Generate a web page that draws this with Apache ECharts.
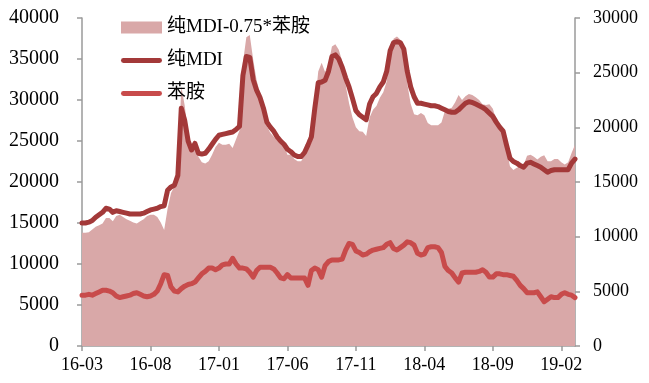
<!DOCTYPE html>
<html>
<head>
<meta charset="utf-8">
<script src="https://cdn.jsdelivr.net/npm/echarts@6/dist/echarts.min.js"></script>
<style>
  html, body { margin: 0; padding: 0; background: #fff; }
  #chart { width: 649px; height: 383px; }
</style>
</head>
<body>
<div id="chart"></div>
<script>
// Months covered, four weekly samples per month (2016-03 .. 2019-03)
const startYear = 2016, startMonth = 3, monthCount = 37;
const weekDays = ['01', '08', '15', '22'];

// Tick labels shown on the x axis
const tickLabels = ['16-03', '16-08', '17-01', '17-06', '17-11', '18-04', '18-09', '19-02'];

// 纯MDI price (left axis, 元/吨)
const mdi = [
  15000, 15000, 15100, 15300, 15700, 16000, 16300, 16800, 16700, 16300,
  16500, 16400, 16300, 16200, 16100, 16100, 16100, 16100, 16200, 16400,
  16600, 16700, 16800, 17000, 17100, 19000, 19400, 19600, 20800, 29000,
  27500, 25000, 23900, 24700, 23500, 23400, 23500, 24000, 24600, 25200,
  25700, 25800, 25900, 26000, 26100, 26400, 26800, 33000, 35300, 35200,
  32500, 31200, 30300, 29000, 27300, 26700, 26200, 25500, 25000, 24600,
  24000, 23700, 23300, 23100, 23100, 23600, 24500, 25500, 29000, 32100,
  32200, 32400, 33500, 35300, 35500, 35000, 34000, 32700, 31600, 30200,
  28700, 28200, 27900, 27600, 29500, 30400, 30800, 31600, 32200, 33500,
  36000, 37000, 37100, 37000, 36200, 33500, 31600, 30400, 29600, 29600,
  29500, 29400, 29300, 29300, 29200, 29000, 28800, 28600, 28500, 28500,
  28800, 29200, 29600, 29800, 29700, 29500, 29300, 29100, 28800, 28400,
  28000, 27300, 26700, 26200, 24500, 22900, 22500, 22300, 22000, 21800,
  22300, 22400, 22200, 22000, 21800, 21500, 21200, 21400, 21500, 21500,
  21500, 21500, 21500, 22300, 22800
];

// 苯胺 price (left axis, 元/吨)
const aniline = [
  6200, 6200, 6300, 6200, 6400, 6600, 6800, 6800, 6700, 6500,
  6100, 5900, 6000, 6100, 6200, 6400, 6500, 6300, 6100, 6000,
  6100, 6300, 6700, 7600, 8700, 8600, 7200, 6700, 6600, 7000,
  7300, 7500, 7600, 7800, 8300, 8800, 9100, 9500, 9500, 9300,
  9500, 9900, 10000, 10000, 10700, 10000, 9500, 9500, 9400, 9000,
  8400, 9200, 9600, 9600, 9600, 9600, 9400, 8900, 8300, 8200,
  8700, 8300, 8300, 8300, 8300, 8300, 7400, 9200, 9500, 9300,
  8400, 9800, 10300, 10500, 10500, 10500, 10600, 11700, 12500, 12400,
  11600, 11400, 11100, 11200, 11500, 11700, 11800, 11900, 12000, 12400,
  12600, 11900, 11700, 12000, 12300, 12700, 12600, 12300, 11300, 11100,
  11200, 12000, 12100, 12100, 12000, 11400, 9700, 9200, 8900, 8300,
  7800, 8900, 9000, 9000, 9000, 9000, 9100, 9300, 9000, 8400,
  8400, 8800, 8800, 8700, 8700, 8600, 8500, 8000, 7400, 7000,
  6500, 6500, 6500, 6600, 6000, 5400, 5700, 6000, 5900, 5900,
  6300, 6500, 6300, 6200, 5900
];

// 纯MDI-0.75*苯胺 spread (right axis, 元/吨)
const spread = [
  10350, 10350, 10400, 10650, 10900, 11050, 11200, 11700, 11700, 11400,
  11900, 12000, 11800, 11600, 11450, 11300, 11200, 11400, 11600, 11900,
  12000, 12000, 11800, 11300, 10600, 12550, 14000, 14600, 15850, 23750,
  22000, 19400, 18200, 18850, 17300, 16800, 16700, 16900, 17500, 18200,
  18600, 18400, 18400, 18500, 18100, 18900, 19700, 25900, 28250, 28450,
  26200, 24300, 23100, 21800, 20100, 19500, 19150, 18800, 18800, 18450,
  17500, 17500, 17100, 16900, 16900, 17400, 18950, 18600, 21900, 25100,
  25900, 25050, 25800, 27400, 27600, 27100, 26050, 23900, 22200, 20900,
  20000, 19650, 19600, 19200, 20900, 21600, 21950, 22700, 23200, 24200,
  26550, 28100, 28300, 28000, 27000, 24000, 22150, 21200, 21100, 21300,
  21100, 20400, 20200, 20200, 20200, 20450, 21500, 21700, 21800, 22300,
  22950, 22500, 22850, 23050, 22950, 22750, 22500, 22100, 22050, 22100,
  21700, 20700, 20100, 19700, 18000, 16450, 16100, 16300, 16450, 16550,
  17400, 17500, 17300, 17050, 17300, 17450, 16900, 16900, 17100, 17100,
  16800, 16600, 16800, 17650, 18400
];

const seriesNames = ['纯MDI-0.75*苯胺', '纯MDI', '苯胺'];

// Weekly category keys, e.g. 2016-03-01
const weeks = [];
for (let k = 0; k < monthCount; k++) {
  const y = startYear + Math.floor((startMonth - 1 + k) / 12);
  const m = (startMonth - 1 + k) % 12 + 1;
  const mm = String(m).padStart(2, '0');
  const count = k === monthCount - 1 ? 1 : weekDays.length;
  for (let w = 0; w < count; w++) weeks.push(y + '-' + mm + '-' + weekDays[w]);
}
const shortLabel = d => d.slice(2, 7);
const isTick = i => tickLabels.includes(shortLabel(weeks[i])) && weeks[i].endsWith('-01');

const serif = "'Liberation Serif', 'Times New Roman', 'Noto Sans CJK SC', serif";
const axisGrey = '#9a9a9a';
const plain = v => String(v);

// Thick rounded bar used as the legend marker for the two price lines
const lineIcon = 'path://M6,0 L94,0 A6,6 0 0 1 94,12 L6,12 A6,6 0 0 1 6,0 Z';

const chart = echarts.init(document.getElementById('chart'), null, { renderer: 'canvas' });
chart.setOption({
  animation: false,
  backgroundColor: '#ffffff',
  grid: { left: 82, right: 74, top: 18, bottom: 37, containLabel: false },
  legend: {
    orient: 'vertical',
    left: 116,
    top: 13,
    itemGap: 14,
    itemWidth: 41,
    itemHeight: 12,
    textStyle: { fontFamily: serif, fontSize: 19, color: '#000' },
    data: [
      { name: seriesNames[0], icon: 'rect' },
      { name: seriesNames[1], icon: lineIcon, itemHeight: 6 },
      { name: seriesNames[2], icon: lineIcon, itemHeight: 6 }
    ]
  },
  xAxis: {
    type: 'category',
    data: weeks,
    boundaryGap: false,
    axisLine: { lineStyle: { color: axisGrey, width: 1.5 } },
    axisTick: {
      show: true,
      length: 5,
      lineStyle: { color: axisGrey, width: 1.5 },
      interval: isTick
    },
    axisLabel: {
      interval: isTick,
      formatter: v => shortLabel(v),
      fontFamily: serif,
      fontSize: 18,
      color: '#000',
      margin: 10
    },
    splitLine: { show: false }
  },
  yAxis: [
    {
      type: 'value',
      min: 0, max: 40000, interval: 5000,
      axisLine: { show: true, lineStyle: { color: axisGrey, width: 1.5 } },
      axisTick: { show: true, length: 5, lineStyle: { color: axisGrey, width: 1.5 } },
      axisLabel: { formatter: plain, fontFamily: serif, fontSize: 20, color: '#000', margin: 23 },
      splitLine: { show: false }
    },
    {
      type: 'value',
      min: 0, max: 30000, interval: 5000,
      position: 'right',
      axisLine: { show: true, lineStyle: { color: axisGrey, width: 1.5 } },
      axisTick: { show: true, length: 5, lineStyle: { color: axisGrey, width: 1.5 } },
      axisLabel: { formatter: plain, fontFamily: serif, fontSize: 18, color: '#000', margin: 18 },
      splitLine: { show: false }
    }
  ],
  series: [
    {
      name: seriesNames[0],
      type: 'line',
      yAxisIndex: 1,
      data: spread,
      symbol: 'none',
      lineStyle: { width: 0 },
      itemStyle: { color: '#d9a8a8' },
      areaStyle: { color: '#d9a8a8', opacity: 1 },
      z: 1
    },
    {
      name: seriesNames[1],
      type: 'line',
      yAxisIndex: 0,
      data: mdi,
      symbol: 'none',
      itemStyle: { color: '#a33939' },
      lineStyle: { color: '#a33939', width: 5, cap: 'round', join: 'round' },
      z: 3
    },
    {
      name: seriesNames[2],
      type: 'line',
      yAxisIndex: 0,
      data: aniline,
      symbol: 'none',
      itemStyle: { color: '#c84b4b' },
      lineStyle: { color: '#c84b4b', width: 5, cap: 'round', join: 'round' },
      z: 2
    }
  ]
});
</script>
</body>
</html>
